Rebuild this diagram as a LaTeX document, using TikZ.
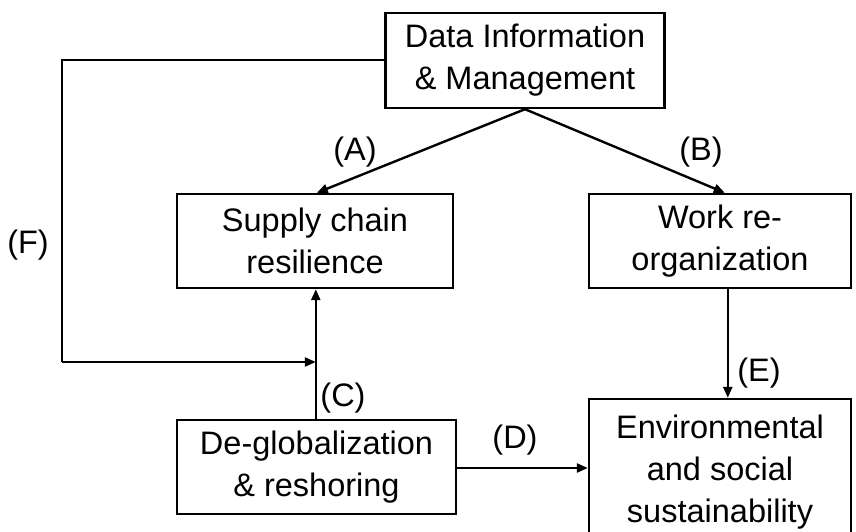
\documentclass[tikz,border=0pt]{standalone}
\usepackage{fontspec}
\setmainfont{Liberation Sans}
\usetikzlibrary{arrows.meta,calc}
\begin{document}
\begin{tikzpicture}[x=1pt,y=-1pt,
  box/.style={draw,line width=2.4pt,align=center,inner sep=0pt,
    font=\fontsize{32.5}{42}\selectfont},
  conn/.style={line width=2.4pt},
  arr/.style={conn,-{Triangle[length=11pt,width=9pt]}},
  lab/.style={font=\fontsize{32.5}{36}\selectfont,inner sep=0pt}]
\useasboundingbox (0,0) rectangle (856,531);
\node[box,minimum width=279pt,minimum height=95pt] (dim) at (525,60.5) {Data Information\\\& Management};
\node[box,minimum width=276pt,minimum height=94pt] (sup) at (315,241) {Supply chain\\resilience};
\node[box,minimum width=262pt,minimum height=94pt] (work) at (720,241) {Work re-\\organization};
\node[box,minimum width=279pt,minimum height=94pt] (deg) at (316.5,467) {De-globalization\\\& reshoring};
\node[box,minimum width=262pt,minimum height=146pt] (env) at (720,472) {Environmental\\and social\\sustainability};
\coordinate (atip) at ($(sup.north west)+(141,0)$);
\coordinate (btip) at ($(work.north west)+(137,0)$);
\coordinate (cx) at ($(deg.north west)+(140,0)$);
\coordinate (csup) at (cx |- sup.south);
\coordinate (ex) at ($(work.south west)+(140,0)$);
\coordinate (f1) at (62,60);
\coordinate (f2) at (62,362);
\coordinate (f3) at (cx |- f2);
\draw[arr] (dim.south) -- (atip);
\draw[arr] (dim.south) -- (btip);
\draw[arr] (cx) -- (csup);
\draw[arr] (ex) -- (ex |- env.north);
\draw[arr] (deg.east |- 0,468) -- (env.west |- 0,468);
\draw[conn] (dim.west |- f1) -- (f1) -- (f2);
\draw[arr] (f2) -- (f3);
\node[lab] (la) at (355,152) {(A)};
\node[lab] (lb) at (701,152) {(B)};
\node[lab] (lc) at (343,398) {(C)};
\node[lab] (ld) at (515,440) {(D)};
\node[lab] (le) at (759,373) {(E)};
\node[lab] (lf) at (28,245) {(F)};
\end{tikzpicture}
\end{document}
